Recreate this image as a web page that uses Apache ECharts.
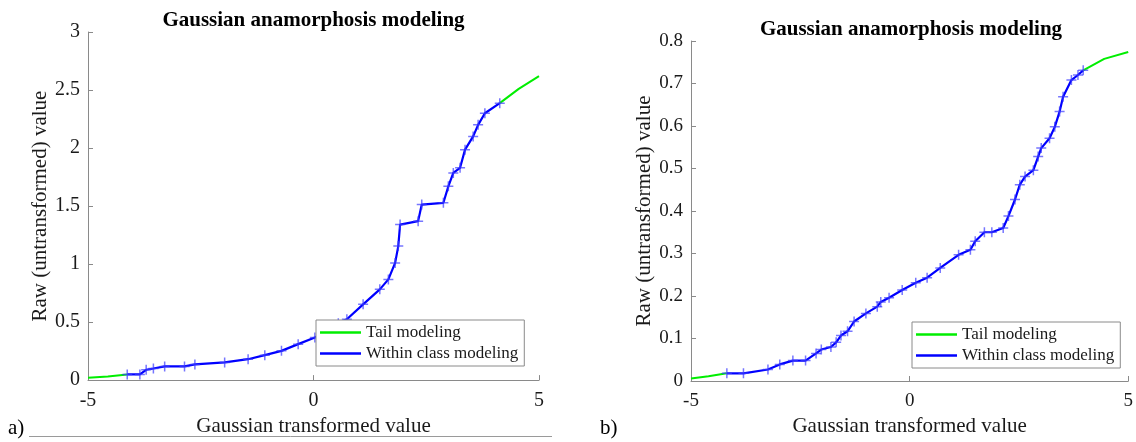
<!DOCTYPE html>
<html>
<head>
<meta charset="utf-8">
<script src="https://cdn.jsdelivr.net/npm/echarts@6/dist/echarts.min.js"></script>
<style>
  html, body { margin: 0; padding: 0; background: #fff; }
  #chart { width: 1136px; height: 442px; }
</style>
</head>
<body>
<div id="chart"></div>
<script>
// Panel a) — Gaussian anamorphosis, raw values 0..3
const aTailLowX = [-5, -4.56, -4.13];
const aTailLowY = [0.02, 0.032, 0.049];
const aTailHighX = [4.13, 4.55, 5];
const aTailHighY = [2.387, 2.51, 2.62];
const aClassX = [-4.13, -3.85, -3.71, -3.55, -3.30, -2.86, -2.63, -1.97, -1.45, -1.08, -0.71, -0.34, 0.03, 0.33, 0.55, 0.74, 1.10, 1.47, 1.66, 1.81, 1.88, 1.92, 2.32, 2.40, 2.88, 2.99, 3.10, 3.25, 3.36, 3.54, 3.65, 3.80, 4.13];
const aClassY = [0.049, 0.049, 0.089, 0.100, 0.118, 0.118, 0.135, 0.152, 0.180, 0.215, 0.252, 0.310, 0.367, 0.430, 0.490, 0.524, 0.653, 0.782, 0.868, 1.010, 1.155, 1.340, 1.370, 1.513, 1.528, 1.670, 1.785, 1.830, 1.986, 2.100, 2.200, 2.300, 2.387];

// Panel b) — Gaussian anamorphosis, raw values 0..0.8
const bTailLowX = [-5, -4.6, -4.18];
const bTailLowY = [0.006, 0.011, 0.018];
const bTailHighX = [3.97, 4.45, 5];
const bTailHighY = [0.731, 0.758, 0.774];
const bClassX = [-4.18, -3.80, -3.24, -2.97, -2.67, -2.38, -2.14, -2.02, -1.80, -1.68, -1.57, -1.42, -1.27, -1.00, -0.74, -0.66, -0.47, -0.17, 0.14, 0.40, 0.70, 1.12, 1.39, 1.50, 1.71, 1.88, 2.14, 2.26, 2.41, 2.52, 2.64, 2.83, 2.94, 3.01, 3.20, 3.32, 3.43, 3.51, 3.70, 3.85, 3.97];
const bClassY = [0.018, 0.018, 0.027, 0.039, 0.048, 0.048, 0.065, 0.074, 0.080, 0.091, 0.107, 0.117, 0.140, 0.159, 0.175, 0.186, 0.196, 0.214, 0.231, 0.243, 0.266, 0.297, 0.309, 0.329, 0.350, 0.350, 0.360, 0.388, 0.427, 0.462, 0.481, 0.496, 0.528, 0.548, 0.571, 0.598, 0.634, 0.669, 0.708, 0.720, 0.731];

const xTicks = { min: -5, max: 5, interval: 5 };
const aYTicks = { min: 0, max: 3, interval: 0.5 };
const bYTicks = { min: 0, max: 0.8, interval: 0.1 };

const titleText = 'Gaussian anamorphosis modeling';
const xName = 'Gaussian transformed value';
const yName = 'Raw (untransformed) value';
const tailName = 'Tail modeling';
const className = 'Within class modeling';

const SERIF = 'Liberation Serif';
const AXIS_GREY = '#8a8a8a';
const TEXT = '#1a1a1a';
const GREEN = '#00ee00';
const BLUE = '#0000ff';
const PLUS = 'path://M-0.6,-4H0.6V-0.6H4V0.6H0.6V4H-0.6V0.6H-4V-0.6H-0.6Z';

const pairs = (xs, ys) => xs.map((x, i) => [x, ys[i]]);
const fmt = v => String(+v.toFixed(2));

function xAxis(gridIndex, nameGap, labelSize) {
  return {
    type: 'value', gridIndex, ...xTicks,
    name: xName, nameLocation: 'middle', nameGap,
    nameTextStyle: { fontFamily: SERIF, fontSize: 21, color: TEXT },
    axisLine: { show: true, onZero: false, lineStyle: { color: AXIS_GREY, width: 1 } },
    axisTick: { show: true, inside: true, length: 5, lineStyle: { color: AXIS_GREY } },
    axisLabel: { fontFamily: SERIF, fontSize: labelSize, color: TEXT, margin: 11, formatter: fmt },
    splitLine: { show: false }
  };
}
function yAxis(gridIndex, ticks, nameGap, labelSize) {
  return {
    type: 'value', gridIndex, ...ticks,
    name: yName, nameLocation: 'middle', nameGap,
    nameTextStyle: { fontFamily: SERIF, fontSize: 21, color: TEXT },
    axisLine: { show: true, onZero: false, lineStyle: { color: AXIS_GREY, width: 1 } },
    axisTick: { show: true, inside: true, length: 5, lineStyle: { color: AXIS_GREY } },
    axisLabel: { fontFamily: SERIF, fontSize: labelSize, color: TEXT, margin: 8, formatter: fmt },
    splitLine: { show: false }
  };
}
function tail(idx, xs, ys) {
  return {
    type: 'line', name: tailName, xAxisIndex: idx, yAxisIndex: idx,
    data: pairs(xs, ys), smooth: false, showSymbol: false,
    lineStyle: { color: GREEN, width: 2 }, itemStyle: { color: GREEN }, z: 2
  };
}
function within(idx, xs, ys) {
  return {
    type: 'line', name: className, xAxisIndex: idx, yAxisIndex: idx,
    data: pairs(xs, ys), showSymbol: true, showAllSymbol: true,
    symbol: PLUS, symbolSize: 10,
    lineStyle: { color: BLUE, width: 2.2 },
    itemStyle: { color: 'rgba(60,60,255,0.7)', borderWidth: 0 }, z: 3
  };
}
function legend(left, top) {
  return {
    orient: 'vertical', left, top,
    data: [
      { name: tailName, itemStyle: { color: GREEN } },
      { name: className, itemStyle: { color: BLUE } }
    ],
    icon: 'rect', itemWidth: 41, itemHeight: 2.5, itemGap: 0,
    padding: [2, 6, 2, 4],
    backgroundColor: '#fff', borderColor: '#8a8a8a', borderWidth: 1, borderRadius: 0,
    selectedMode: false,
    textStyle: { fontFamily: SERIF, fontSize: 17, color: TEXT, lineHeight: 21, padding: [0, 0, 0, 0] }
  };
}

const chart = echarts.init(document.getElementById('chart'), null, { renderer: 'canvas' });
chart.setOption({
  animation: false,
  backgroundColor: '#fff',
  grid: [
    { left: 88, top: 32, width: 451, height: 349 },
    { left: 691, top: 41, width: 440, height: 340 }
  ],
  xAxis: [xAxis(0, 33, 20), xAxis(1, 31, 19)],
  yAxis: [yAxis(0, aYTicks, 36, 20), yAxis(1, bYTicks, 35, 19)],
  legend: [legend(316, 320), legend(912, 322)],
  series: [
    tail(0, aTailLowX, aTailLowY),
    tail(0, aTailHighX, aTailHighY),
    within(0, aClassX, aClassY),
    tail(1, bTailLowX, bTailLowY),
    tail(1, bTailHighX, bTailHighY),
    within(1, bClassX, bClassY)
  ],
  graphic: [
    { type: 'text', x: 313.5, y: 10, style: { text: titleText, font: 'bold 21px "Liberation Serif"', fill: '#000', align: 'center', verticalAlign: 'top' } },
    { type: 'text', x: 911, y: 19, style: { text: titleText, font: 'bold 21px "Liberation Serif"', fill: '#000', align: 'center', verticalAlign: 'top' } },
    { type: 'text', x: 8, y: 418, style: { text: 'a)', font: '21px "Liberation Serif"', fill: '#000', verticalAlign: 'top' } },
    { type: 'text', x: 600, y: 418, style: { text: 'b)', font: '21px "Liberation Serif"', fill: '#000', verticalAlign: 'top' } },
    { type: 'line', shape: { x1: 29, y1: 436.5, x2: 552, y2: 436.5 }, style: { stroke: '#9a9a9a', lineWidth: 1 } }
  ]
});
</script>
</body>
</html>
